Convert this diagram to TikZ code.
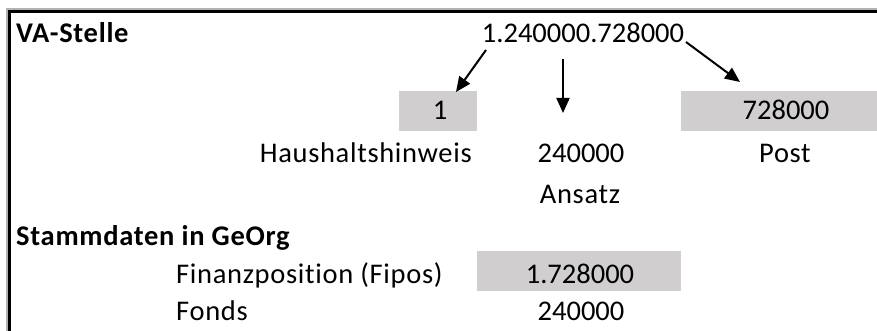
\documentclass[tikz,border=0pt]{standalone}
\usepackage{fontspec}
\setmainfont{Carlito}
\newfontfamily\wideletters{Carlito}[LetterSpace=2.4, RawFeature=-liga]
\newfontfamily\widebold{Carlito}[LetterSpace=2.5, RawFeature=-liga, UprightFont=* Bold]
\usetikzlibrary{arrows.meta}
\definecolor{cellgray}{RGB}{208,206,206}
\tikzset{
  txt/.style={inner sep=0pt, font=\fontsize{28.5}{34}\selectfont},
  ltxt/.style={inner sep=0pt, font=\fontsize{28.5}{34}\wideletters},
  btxt/.style={inner sep=0pt, font=\fontsize{28.5}{34}\widebold},
  cell/.style={fill=cellgray, draw=none},
  arr/.style={line width=2pt, -{Triangle[length=15pt,width=13pt]}},
  frame/.style={line width=2.6pt, black},
  shade/.style={line width=1.5pt, black!30}
}
\begin{document}
\begin{tikzpicture}[x=1pt,y=-1pt]
\useasboundingbox (0,0) rectangle (877,331);
\fill[white] (0,0) rectangle (877,331);
% frame
\draw[shade] (6.8,331) -- (6.8,8.8) -- (877,8.8);
\draw[frame] (9.3,331) -- (9.3,11.3) -- (877,11.3);
% gray cells
\fill[cell] (399,91) rectangle (477,131);
\fill[cell] (681,91) rectangle (877,131);
\fill[cell] (477,251) rectangle (681,291);
% texts
\node[btxt, anchor=base west] (va) at (16,43) {VA-Stelle};
\node[txt, anchor=base] (num) at (583,43) {1.240000.728000};
\node[txt, anchor=base] (one) at (440,120) {1};
\node[txt, anchor=base] (post728) at (786,120) {728000};
\node[ltxt, anchor=base east] (hh) at (472,163) {Haushaltshinweis};
\node[txt, anchor=base] (ans240) at (581,163) {240000};
\node[ltxt, anchor=base] (post) at (785,163) {Post};
\node[ltxt, anchor=base] (ansatz) at (580,203) {Ansatz};
\node[btxt, anchor=base west] (stamm) at (16,245) {Stammdaten in GeOrg};
\node[ltxt, anchor=base west] (fipos) at (176,283) {Finanzposition (Fipos)};
\node[txt, anchor=base] (fiposv) at (580,283) {1.728000};
\node[ltxt, anchor=base west] (fonds) at (176,320) {Fonds};
\node[txt, anchor=base] (fondsv) at (581,320) {240000};
% arrows
\coordinate (l1) at (486,50);
\coordinate (l2) at (456,92);
\coordinate (m1) at (563,59);
\coordinate (m2) at (563,113);
\coordinate (r1) at (686,42);
\coordinate (r2) at (740,82);
\draw[arr] (l1) -- (l2);
\draw[arr] (m1) -- (m2);
\draw[arr] (r1) -- (r2);
\end{tikzpicture}
\end{document}
